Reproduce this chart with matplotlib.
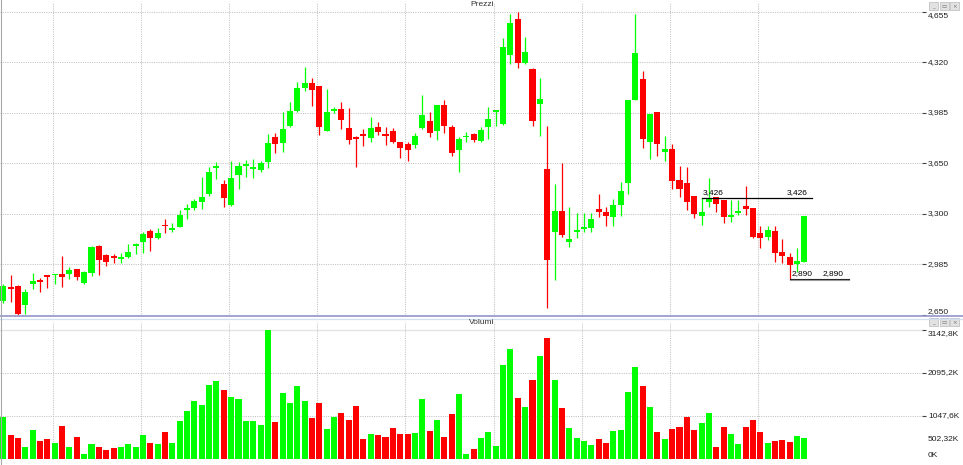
import numpy as np
import matplotlib
matplotlib.use('Agg')
import matplotlib.pyplot as plt
import matplotlib.transforms as mtransforms
from matplotlib.lines import Line2D
from matplotlib.patches import Rectangle

plt.rcParams['font.family'] = ['Liberation Sans', 'DejaVu Sans']

# --- dati (prezzi giornalieri e volumi in migliaia) ---
opens = [2745, 2837, 2844, 2718, 2857, 2881, 2910, 2912, 2923, 2923,
         2952, 2859, 2930, 3108, 3047, 3042, 3022, 3036, 3106, 3130,
         3208, 3161, 3243, 3214, 3234, 3344, 3355, 3399, 3452, 3620,
         3516, 3377, 3573, 3635, 3615, 3609, 3664, 3827, 3789, 3897,
         3999, 4153, 4184, 4164, 3866, 3999, 4014, 3886, 3827, 3840,
         3822, 3893, 3842, 3866, 3796, 3778, 3776, 3886, 3933, 3869,
         4036, 3893, 3743, 3825, 3847, 3803, 3895, 3992, 3911, 4369,
         4605, 4316, 4274, 4043, 3617, 3201, 3338, 3135, 3201, 3221,
         3225, 3353, 3333, 3300, 3377, 3525, 4071, 4212, 3794, 3990,
         3730, 3745, 3542, 3525, 3435, 3307, 3399, 3430, 3410, 3300,
         3324, 3373, 3357, 3194, 3166, 3205, 3066, 3036, 2989, 3000]
highs = [2857, 2914, 2848, 2820, 2925, 2897, 2912, 2921, 3040, 2967,
         2956, 2939, 3108, 3113, 3051, 3055, 3062, 3122, 3128, 3197,
         3219, 3225, 3287, 3260, 3342, 3384, 3417, 3565, 3626, 3664,
         3542, 3668, 3661, 3675, 3679, 3668, 3847, 3853, 3990, 4060,
         4188, 4290, 4219, 4164, 4142, 4027, 4060, 4016, 3833, 3880,
         3957, 3928, 3893, 3886, 3796, 3796, 3855, 4107, 3994, 4036,
         4074, 3904, 3829, 3858, 3853, 3893, 4023, 3996, 4479, 4640,
         4655, 4486, 4281, 4215, 3899, 3516, 3657, 3366, 3322, 3322,
         3327, 3450, 3366, 3415, 3529, 4071, 4638, 4263, 3977, 3990,
         3836, 3778, 3637, 3626, 3435, 3426, 3554, 3430, 3410, 3410,
         3410, 3503, 3357, 3238, 3238, 3238, 3150, 3058, 3091, 3302]
lows = [2731, 2738, 2650, 2658, 2820, 2804, 2826, 2855, 2837, 2888,
        2884, 2857, 2910, 2914, 2976, 2992, 2996, 3029, 3051, 3062,
        3075, 3152, 3192, 3201, 3230, 3282, 3344, 3351, 3437, 3549,
        3366, 3373, 3481, 3565, 3554, 3598, 3624, 3721, 3728, 3893,
        3994, 4133, 4032, 3838, 3866, 3983, 3880, 3780, 3631, 3765,
        3792, 3838, 3776, 3785, 3690, 3670, 3756, 3882, 3827, 3807,
        3851, 3701, 3598, 3796, 3792, 3792, 3814, 3902, 3906, 4307,
        4281, 4312, 3902, 3833, 2694, 2881, 3168, 3102, 3161, 3201,
        3197, 3300, 3241, 3241, 3307, 3452, 4071, 3756, 3681, 3703,
        3670, 3483, 3432, 3344, 3289, 3245, 3362, 3329, 3256, 3263,
        3311, 3311, 3157, 3091, 3146, 3003, 2992, 2890, 2936, 3000]
closes = [2844, 2822, 2657, 2802, 2875, 2866, 2903, 2917, 2901, 2950,
          2903, 2934, 3102, 3016, 3003, 3029, 3036, 3064, 3113, 3188,
          3161, 3192, 3236, 3221, 3309, 3351, 3404, 3432, 3593, 3637,
          3421, 3554, 3635, 3648, 3631, 3653, 3789, 3783, 3880, 3999,
          4153, 4184, 4140, 3893, 3994, 4014, 3941, 3809, 3814, 3833,
          3886, 3862, 3836, 3794, 3756, 3741, 3833, 3970, 3855, 4036,
          3902, 3723, 3814, 3831, 3809, 3871, 3944, 3996, 4422, 4580,
          4318, 4387, 3935, 4078, 3014, 3338, 3179, 3150, 3205, 3227,
          3282, 3333, 3307, 3377, 3470, 4071, 4380, 3814, 3977, 3778,
          3745, 3538, 3483, 3399, 3320, 3333, 3417, 3382, 3296, 3307,
          3333, 3351, 3166, 3161, 3210, 3058, 3038, 2981, 3007, 3302]
volumes = [1021, 583, 510, 300, 705, 446, 486, 397, 794, 300,
           535, 130, 356, 284, 227, 267, 300, 373, 284, 583,
           389, 356, 656, 389, 923, 1166, 1409, 1312, 1798, 1895,
           1685, 1499, 1458, 923, 923, 826, 3142.8, 907, 1596, 1369,
           1782, 1409, 996, 1353, 729, 1029, 1118, 948, 1288, 486,
           608, 583, 527, 753, 599, 616, 632, 1458, 680, 940,
           527, 1094, 1580, 130, 243, 510, 656, 316, 2284, 2673,
           1482, 1272, 1928, 2495, 2948, 1928, 1239, 753, 510, 437,
           340, 486, 389, 680, 713, 1636, 2236, 1782, 1272, 664,
           486, 729, 770, 1021, 713, 867, 1110, 284, 770, 599,
           373, 770, 956, 664, 397, 437, 462, 421, 551, 502.32]
price_labels = ['2,650', '2,985', '3,300', '3,650', '3,985', '4,320', '4,655']
level_hi, level_hi_start, level_hi_end = 3426, 95, 110
level_lo, level_lo_start, level_lo_end = 2890, 107, 115

o = np.array(opens, float)
h = np.array(highs, float)
l = np.array(lows, float)
c = np.array(closes, float)
v = np.array(volumes, float)
x = np.arange(len(o))

W, H = 963, 465
fig = plt.figure(figsize=(W / 100, H / 100), dpi=100)
fig.patch.set_facecolor('white')


def fx(p):
    return p / W


def fy(p):
    return 1 - p / H


# geometria in pixel del grafico originale
step, x0 = 7.35, 3.3
right_px = 922
xlim = (-x0 / step, (right_px - x0) / step)

axp = fig.add_axes([0, fy(316), fx(right_px), (316 - 3) / H])
axv = fig.add_axes([0, fy(460), fx(right_px), (460 - 322) / H])

green, red = '#00ff00', '#ff0000'
up = c >= o
cols = np.where(up, green, red)
grid_kw = dict(color='#c2c2c2', lw=0.75, linestyle=(0, (1, 1.2)), zorder=0)
vgrid = np.arange(6.7, len(x), 12)

# ---- prezzi ----
p_lo, p_hi = l.min(), h.max()
u = (p_hi - p_lo) / (315 - 11.7)          # prezzo per pixel
axp.set_xlim(*xlim)
axp.set_ylim(p_lo - 1 * u, p_hi + (11.7 - 3) * u)
pticks = np.linspace(p_lo, p_hi, 7)
for gx in vgrid:
    axp.axvline(gx, **grid_kw)
for gy in pticks[1:]:
    axp.axhline(gy, **grid_kw)

axp.vlines(x, l, h, colors=cols, lw=0.9, zorder=2)
body_h = np.maximum(np.abs(c - o), 1.6 * u)
axp.bar(x, body_h, bottom=np.minimum(o, c), width=0.82, color=cols,
        edgecolor='none', zorder=3)

# livelli orizzontali
axp.plot([level_hi_start, level_hi_end], [level_hi, level_hi], color='black',
         lw=0.9, zorder=4)
axp.plot([level_lo_start, level_lo_end], [level_lo, level_lo], color='#222222',
         lw=0.8, zorder=4)
axp.plot([level_lo_start, level_lo_end], [level_lo - u, level_lo - u],
         color='#9a9a9a', lw=0.8, zorder=4)
lab_kw = dict(fontsize=6, color='black', va='bottom', zorder=5)
axp.text(level_hi_start + 0.2, level_hi + 1.5 * u, f"{level_hi:,}", ha='left', **lab_kw)
axp.text(level_hi_end - 0.6, level_hi + 1.5 * u, f"{level_hi:,}", ha='right', **lab_kw)
axp.text(level_lo_start + 0.2, level_lo + 1.5 * u, f"{level_lo:,}", ha='left', **lab_kw)
axp.text(level_lo_end - 0.7, level_lo + 1.5 * u, f"{level_lo:,}", ha='right', **lab_kw)

# ---- volumi ----
v_max = v.max()
uv = v_max / (459 - 329.7)                # volume per pixel
axv.set_xlim(*xlim)
axv.set_ylim(-1 * uv, v_max + (329.7 - 322) * uv)
vticks = v_max * np.array([1 / 3, 2 / 3, 1])
for gx in vgrid:
    axv.axvline(gx, **grid_kw)
for gy in vticks[:2]:
    axv.axhline(gy, **grid_kw)
axv.axhline(vticks[2], color='#e4e4e4', lw=1, zorder=0)
axv.bar(x, v, width=0.82, color=cols, edgecolor='none', zorder=3)

# assi / tacche
for ax, ticks in ((axp, pticks), (axv, vticks)):
    for s in ax.spines.values():
        s.set_visible(False)
    ax.set_xticks([])
    ax.set_yticks(ticks)
    ax.tick_params(axis='y', left=False, right=True, labelleft=False,
                   labelright=False, direction='out', length=3, width=0.8,
                   color='#404040')
    ax.set_facecolor('none')

tp = mtransforms.blended_transform_factory(fig.transFigure, axp.transData)
for i, (tv, tl) in enumerate(zip(pticks, price_labels)):
    va = 'bottom' if i == 0 else ('top' if i == len(pticks) - 1 else 'center')
    fig.text(fx(928), tv, tl, transform=tp, fontsize=6, va=va, ha='left',
             color='#202020')

tv_ = mtransforms.blended_transform_factory(fig.transFigure, axv.transData)
vlabels = [f"{t:.1f}K".replace('.', ',') for t in vticks]
for i, (tv, tl) in enumerate(zip(vticks, vlabels)):
    va = 'top' if i == 2 else 'center'
    fig.text(fx(928), tv, tl, transform=tv_, fontsize=6, va=va, ha='left',
             color='#202020')
fig.text(fx(928), v[-1], f"{v[-1]:.2f}K".replace('.', ','), transform=tv_,
         fontsize=6, va='center', ha='left', color='#202020')
fig.text(fx(928), 0, "0K", transform=tv_, fontsize=6, va='bottom', ha='left',
         color='#202020')

# titoli pannelli
fig.text(fx(482), fy(5), 'Prezzi', ha='center', va='center', fontsize=6,
         color='#333333')
fig.text(fx(482), fy(323), 'Volumi', ha='center', va='center', fontsize=6,
         color='#333333')

# separatori e bordi
fig.add_artist(Line2D([0, 1], [fy(315.8)] * 2, color='#9494cc', lw=1.2))
fig.add_artist(Line2D([0, 1], [fy(318.6)] * 2, color='#cfe0f2', lw=0.9))
fig.add_artist(Line2D([fx(0.5)] * 2, [0, 1], color='#a8a8a8', lw=0.8))

# pulsanti finestra
for ytop in (2, 318):
    for k, g in enumerate(['_', '\u25ad', '\u00d7']):
        x_left = 929 + 10.5 * k
        fig.add_artist(Rectangle((fx(x_left), fy(ytop + 8)), 9 / W, 8 / H,
                                 transform=fig.transFigure, facecolor='#e2e2e2',
                                 edgecolor='#b8b8b8', lw=0.5))
        fig.text(fx(x_left + 4.5), fy(ytop + 4.5), g, ha='center', va='center',
                 fontsize=4, color='#707070', family='DejaVu Sans')

fig.savefig('out.png', dpi=100)
